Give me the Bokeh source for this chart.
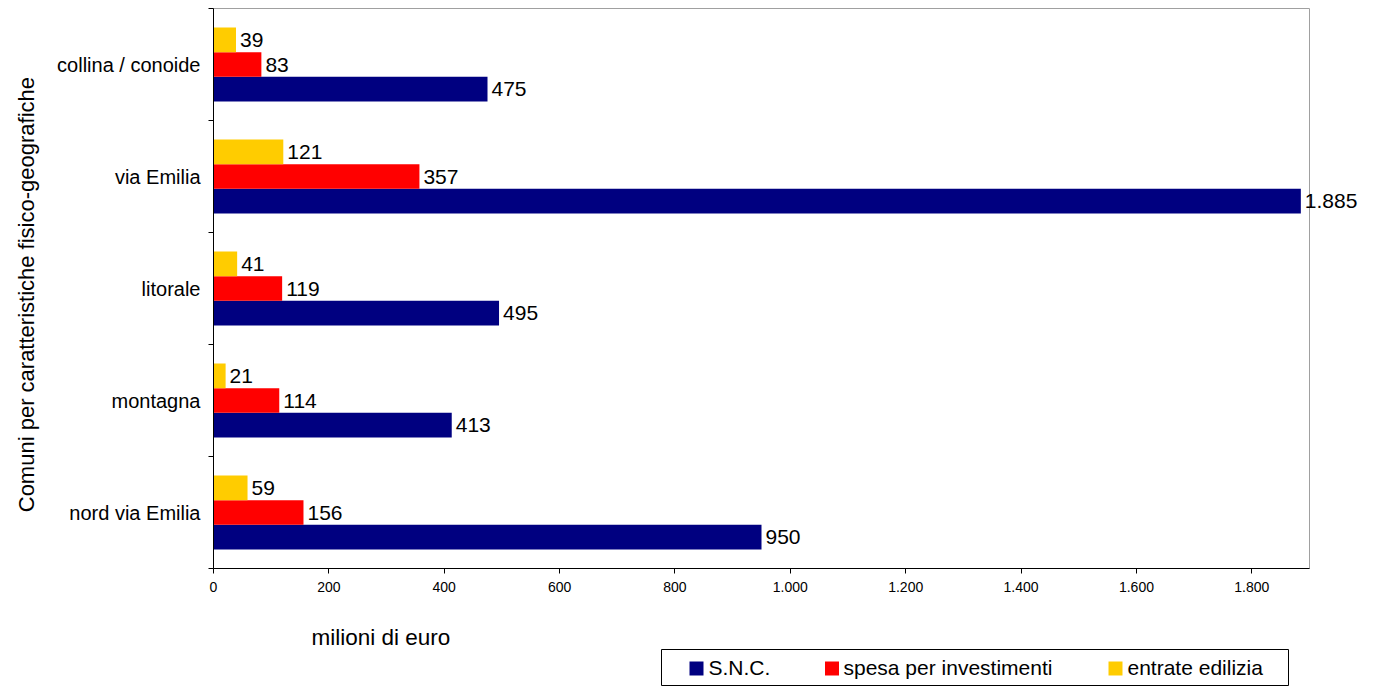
from bokeh.plotting import figure
from bokeh.models import ColumnDataSource, Range1d, FixedTicker
from bokeh.core.properties import value
from bokeh.embed import file_html
from bokeh.resources import INLINE

# ---- data (bottom to top) ----
categories = ["nord via Emilia", "montagna", "litorale", "via Emilia", "collina / conoide"]
snc = [950, 413, 495, 1885, 475]
spesa = [156, 114, 119, 357, 83]
entrate = [59, 21, 41, 121, 39]
series_names = ["S.N.C.", "spesa per investimenti", "entrate edilizia"]
colors = ["#000080", "#ff0000", "#ffcc00"]
x_ticks = [0, 200, 400, 600, 800, 1000, 1200, 1400, 1600, 1800]
x_tick_labels = ["0", "200", "400", "600", "800", "1.000", "1.200", "1.400", "1.600", "1.800"]
x_title = "milioni  di  euro"
y_title = "Comuni  per  caratteristiche fisico-geografiche"

FONT = "Liberation Sans"

# ---- layout constants (pixels) ----
LEFT, TOP, FW, FH, RIGHT, BOTTOM = 213, 8, 1096, 560, 86, 119
XMAX = 1900
NCAT = len(categories)


def fmt(v):
    return f"{v:,}".replace(",", ".")


def px_to_x(px):
    return (px - LEFT) * XMAX / FW


def py_to_y(py):
    return (TOP + FH - py) * NCAT / FH


p = figure(frame_width=FW, frame_height=FH,
           min_border_left=LEFT, min_border_right=RIGHT, min_border_top=TOP, min_border_bottom=BOTTOM,
           x_range=Range1d(0, XMAX), y_range=Range1d(0, NCAT),
           output_backend="svg", toolbar_location=None)

p.background_fill_color = "white"
p.border_fill_color = "white"
p.outline_line_color = "#a0a0a0"
p.outline_line_width = 1
p.xgrid.visible = False
p.ygrid.visible = False

bar_h = 0.22
offsets = [-bar_h, 0.0, bar_h]
series = [snc, spesa, entrate]
for vals, off, col in zip(series, offsets, colors):
    src = ColumnDataSource(dict(
        y=[i + 0.5 + off for i in range(NCAT)],
        v=vals,
        t=[fmt(v) for v in vals],
    ))
    p.hbar(y="y", left=0, right="v", height=bar_h, source=src,
           fill_color=col, line_color=None)
    p.text(x="v", y="y", text="t", source=src, x_offset=4,
           text_baseline="middle", text_align="left",
           text_font=value(FONT), text_font_size=value("21px"),
           text_color="black", level="overlay")

# x axis
xa = p.xaxis[0]
xa.ticker = FixedTicker(ticks=x_ticks, minor_ticks=[])
xa.major_label_overrides = {t: l for t, l in zip(x_ticks, x_tick_labels)}
xa.major_label_text_font = FONT
xa.major_label_text_font_size = "14px"
xa.major_label_text_color = "black"
xa.major_tick_out = 5
xa.major_tick_in = 0
xa.minor_tick_out = 0
xa.minor_tick_in = 0
xa.major_label_standoff = 8
xa.axis_line_color = "black"
xa.major_tick_line_color = "black"

# y axis
ya = p.yaxis[0]
centers = [i + 0.5 for i in range(NCAT)]
ya.ticker = FixedTicker(ticks=centers, minor_ticks=list(range(NCAT + 1)))
ya.major_label_overrides = {c: n for c, n in zip(centers, categories)}
ya.major_label_text_font = FONT
ya.major_label_text_font_size = "20px"
ya.major_label_text_color = "black"
ya.major_tick_out = 0
ya.major_tick_in = 0
ya.minor_tick_out = 5
ya.minor_tick_in = 0
ya.minor_tick_line_color = "black"
ya.major_label_standoff = 8
ya.axis_line_color = "black"
ya.axis_label = y_title
ya.axis_label_text_font = FONT
ya.axis_label_text_font_size = "22px"
ya.axis_label_text_font_style = "normal"
ya.axis_label_text_color = "black"
ya.axis_label_standoff = 15

# x title below axis (unclipped overlay text)
p.text(x=[px_to_x(311)], y=[py_to_y(637)], text=[x_title], text_baseline="middle",
       text_align="left", text_font=value(FONT), text_font_size=value("22.5px"),
       text_color="black", level="overlay")

# legend box below the plot (unclipped overlay glyphs)
p.rect(x=[px_to_x(974.5)], y=[py_to_y(667)], width=627, height=36,
       width_units="screen", height_units="screen",
       fill_color="white", line_color="black", line_width=1, level="overlay")
sq_px = [696, 831.5, 1115]
lbl_px = [708, 843, 1127]
for sx, col in zip(sq_px, colors):
    p.rect(x=[px_to_x(sx)], y=[py_to_y(668)], width=14, height=14,
           width_units="screen", height_units="screen",
           fill_color=col, line_color=None, level="overlay")
p.text(x=[px_to_x(v) for v in lbl_px], y=[py_to_y(667)] * 3, text=series_names,
       text_baseline="middle", text_align="left", text_font=value(FONT),
       text_font_size=value("21px"), text_color="black", level="overlay")

open("out.html", "w").write(file_html(p, INLINE))
